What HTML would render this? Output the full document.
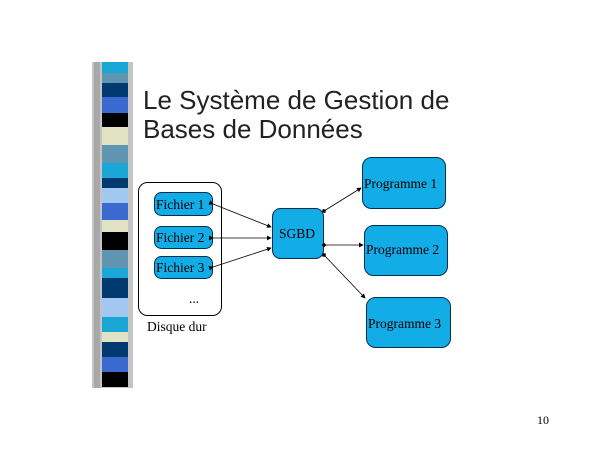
<!DOCTYPE html>
<html><head><meta charset="utf-8"><style>
body{margin:0;width:600px;height:450px;background:#fff;overflow:hidden;position:relative;font-family:"Liberation Serif",serif}
.s{position:absolute;left:102px;width:26px}
.t{position:absolute;left:143px;font-family:"Liberation Sans",sans-serif;font-size:26px;color:#222;line-height:28px}
</style></head><body>
<div style="position:absolute;left:92px;top:62px;width:41px;height:326px;background:#c4c4c4"></div>
<div style="position:absolute;left:94px;top:62px;width:6px;height:326px;background:#a8a8a8"></div>
<div class="s" style="top:62px;height:11px;background:#1aa6d6"></div>
<div class="s" style="top:73px;height:10px;background:#5f95b0"></div>
<div class="s" style="top:83px;height:14px;background:#003a70"></div>
<div class="s" style="top:97px;height:16px;background:#3a6ad0"></div>
<div class="s" style="top:113px;height:14px;background:#000"></div>
<div class="s" style="top:127px;height:18px;background:#e2e2c4"></div>
<div class="s" style="top:145px;height:18px;background:#5f95b0"></div>
<div class="s" style="top:163px;height:15px;background:#1aa6d6"></div>
<div class="s" style="top:178px;height:10px;background:#003a70"></div>
<div class="s" style="top:188px;height:15px;background:#a0c8f0"></div>
<div class="s" style="top:203px;height:17px;background:#3a6ad0"></div>
<div class="s" style="top:220px;height:12px;background:#e2e2c4"></div>
<div class="s" style="top:232px;height:18px;background:#000"></div>
<div class="s" style="top:250px;height:18px;background:#5f95b0"></div>
<div class="s" style="top:268px;height:10px;background:#1aa6d6"></div>
<div class="s" style="top:278px;height:20px;background:#003a70"></div>
<div class="s" style="top:298px;height:19px;background:#a0c8f0"></div>
<div class="s" style="top:317px;height:15px;background:#1aa6d6"></div>
<div class="s" style="top:332px;height:10px;background:#e2e2c4"></div>
<div class="s" style="top:342px;height:15px;background:#003a70"></div>
<div class="s" style="top:357px;height:15px;background:#3a6ad0"></div>
<div class="s" style="top:372px;height:15px;background:#000"></div>
<div class="t" style="top:86px">Le Système de Gestion de</div>
<div class="t" style="top:115px">Bases de Données</div>
<svg width="600" height="450" style="position:absolute;left:0;top:0" font-family="Liberation Serif, serif" font-size="13.5">
<defs><marker id="a" markerWidth="6" markerHeight="6" refX="5" refY="3" orient="auto"><path d="M0,0L6,3L0,6z" fill="#000"/></marker>
<marker id="d" markerWidth="6" markerHeight="6" refX="3" refY="3" orient="auto"><path d="M0,3L3,0L6,3L3,6z" fill="#000"/></marker></defs>
<rect x="138.5" y="182.5" width="83" height="133" rx="9" fill="#fff" stroke="#000"/>
<g fill="#12ace6" stroke="#003050">
<rect x="154.5" y="192.5" width="58" height="23" rx="7"/>
<rect x="154.5" y="226.5" width="58" height="22" rx="7"/>
<rect x="154.5" y="256.5" width="58" height="22" rx="7"/>
<rect x="272.5" y="208.5" width="51" height="50" rx="8"/>
<rect x="362.5" y="157.5" width="83" height="51" rx="9"/>
<rect x="364.5" y="225.5" width="83" height="50" rx="9"/>
<rect x="366.5" y="297.5" width="84" height="50" rx="9"/>
</g>
<g stroke="#000" stroke-width="0.8" fill="none">
<line x1="213" y1="204" x2="271" y2="227" marker-start="url(#a)" marker-end="url(#a)"/>
<line x1="213" y1="238" x2="271" y2="238" marker-start="url(#a)" marker-end="url(#a)"/>
<line x1="213" y1="267" x2="271" y2="248" marker-start="url(#a)" marker-end="url(#a)"/>
<line x1="324" y1="211" x2="361" y2="188" marker-start="url(#d)" marker-end="url(#a)"/>
<line x1="324" y1="245" x2="363" y2="245" marker-start="url(#d)" marker-end="url(#a)"/>
<line x1="324" y1="255" x2="365" y2="298" marker-start="url(#d)" marker-end="url(#a)"/>
</g>
<g fill="#000">
<text x="156" y="209">Fichier 1</text>
<text x="156" y="242">Fichier 2</text>
<text x="156" y="272">Fichier 3</text>
<text x="189" y="303">...</text>
<text x="147" y="331">Disque dur</text>
<text x="279" y="238">SGBD</text>
<text x="364" y="188">Programme 1</text>
<text x="366" y="254">Programme 2</text>
<text x="368" y="328">Programme 3</text>
<text x="537" y="424" font-size="12">10</text>
</g>
</svg>
</body></html>
